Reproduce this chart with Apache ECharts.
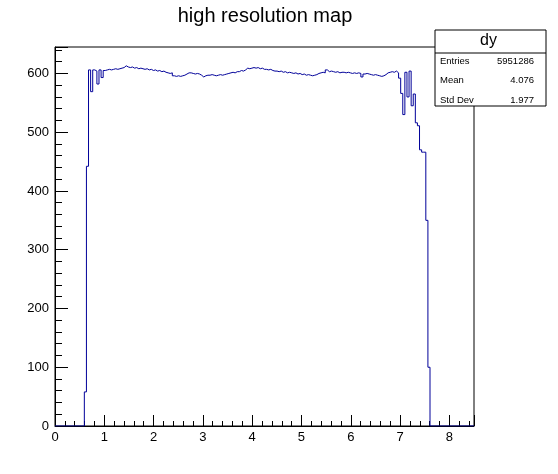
<!DOCTYPE html>
<html>
<head>
<meta charset="utf-8">
<script src="https://cdn.jsdelivr.net/npm/echarts@6/dist/echarts.min.js"></script>
<style>html,body{margin:0;padding:0;background:#fff}#c{width:558px;height:474px}</style>
</head>
<body>
<div id="c"></div>
<script>
// Histogram definition
const xMin = 0;
const xMax = 8.5;
const binWidth = 0.0425;
const firstBin = 14;           // index of first non-empty bin
const counts = [
  58, 442,
  606, 569, 606, 604, 582, 606, 593,
  605, 606, 607, 606, 607, 608, 607, 608,
  609, 610, 613, 611, 610, 611, 609, 610, 608, 609,
  608, 607, 608, 606, 607, 605, 606, 604, 605, 603,
  604, 602, 601, 600, 601, 596, 595, 596, 595, 596,
  597, 599, 601, 601, 600, 599, 600, 599, 597, 594,
  596, 597, 597, 598, 597, 596, 597, 598, 597, 598,
  599, 600, 601, 602, 601, 603, 603, 605, 604, 606,
  609, 608, 609, 610, 609, 610, 608, 609, 607, 607,
  606, 607, 605, 604, 604, 603, 604, 602, 603, 601,
  602, 601, 600, 601, 599, 600, 598, 599, 597, 598,
  597, 596, 597, 598, 600, 601, 602, 601, 606, 603,
  604, 603, 602, 603, 601, 602, 602, 601, 602, 601,
  600, 601, 600, 601, 600, 594, 599, 600, 599, 598,
  597, 598, 597, 596, 595, 596, 598, 601, 602, 603,
  602, 604, 601,
  592, 566, 530, 602, 560, 604, 545, 565, 516, 511, 470, 466, 466, 350, 100
];
const yMax = 645;
const titleText = 'high resolution map';
const statsName = 'dy';
const statsLabels = ['Entries', 'Mean', 'Std Dev'];
const statsValues = ['5951286', '4.076', '1.977'];

// Build step points: left edge of each bin
const pts = [[xMin, 0]];
pts.push([xMin + firstBin * binWidth, 0]);
counts.forEach((c, i) => pts.push([xMin + (firstBin + i) * binWidth, c]));
pts.push([xMin + (firstBin + counts.length) * binWidth, 0]);
pts.push([xMax, 0]);

const chart = echarts.init(document.getElementById('c'), null, {renderer: 'canvas'});
const font = 'Liberation Sans, Arial, Helvetica, sans-serif';
const statTop = 30, statLeft = 435, statW = 111, statH = 76, rowH = 19.5;
const graphics = [
  {type: 'text', x: 265, y: 16, style: {text: titleText, font: '20px ' + font, fill: '#000', align: 'center', verticalAlign: 'middle'}},
  {type: 'rect', shape: {x: statLeft, y: statTop, width: statW, height: statH}, style: {fill: '#fff', stroke: '#000', lineWidth: 1}, z: 100},
  {type: 'line', shape: {x1: statLeft, y1: statTop + 23, x2: statLeft + statW, y2: statTop + 23}, style: {stroke: '#000', lineWidth: 1}, z: 101},
  {type: 'text', x: statLeft + statW / 2 - 2, y: statTop + 11, style: {text: statsName, font: '16px ' + font, fill: '#000', align: 'center', verticalAlign: 'middle'}, z: 101}
];
statsLabels.forEach((l, i) => {
  graphics.push({type: 'text', x: statLeft + 5, y: statTop + 31 + i * rowH, style: {text: l, font: '9.5px ' + font, fill: '#000', verticalAlign: 'middle'}, z: 101});
  graphics.push({type: 'text', x: statLeft + statW - 12, y: statTop + 31 + i * rowH, style: {text: statsValues[i], font: '9.5px ' + font, fill: '#000', align: 'right', verticalAlign: 'middle'}, z: 101});
});

chart.setOption({
  animation: false,
  grid: {left: 55, right: 84, top: 47, bottom: 48, show: true, borderColor: '#000', borderWidth: 1, containLabel: false},
  xAxis: {
    type: 'value', min: xMin, max: xMax, interval: 1,
    axisLine: {show: true, lineStyle: {color: '#000', width: 1}},
    axisTick: {show: true, inside: true, length: 11, lineStyle: {color: '#000'}},
    minorTick: {show: true, splitNumber: 5, length: 5, lineStyle: {color: '#000'}},
    splitLine: {show: false},
    axisLabel: {color: '#000', fontSize: 13, fontFamily: font, margin: 5, showMaxLabel: false,
      formatter: v => (Math.abs(v - Math.round(v)) < 1e-9 ? String(Math.round(v)) : '')}
  },
  yAxis: {
    type: 'value', min: 0, max: yMax, interval: 100,
    axisLine: {show: true, lineStyle: {color: '#000', width: 1}},
    axisTick: {show: true, inside: true, length: 13, lineStyle: {color: '#000'}},
    minorTick: {show: true, splitNumber: 5, length: 7, lineStyle: {color: '#000'}},
    splitLine: {show: false},
    axisLabel: {color: '#000', fontSize: 13, fontFamily: font, margin: 6, showMaxLabel: false,
      formatter: v => (v % 100 === 0 ? String(v) : '')}
  },
  graphic: graphics,
  series: [{
    type: 'line', step: 'end', data: pts, symbol: 'none',
    lineStyle: {color: '#000099', width: 1}, clip: true
  }]
});
</script>
</body>
</html>
